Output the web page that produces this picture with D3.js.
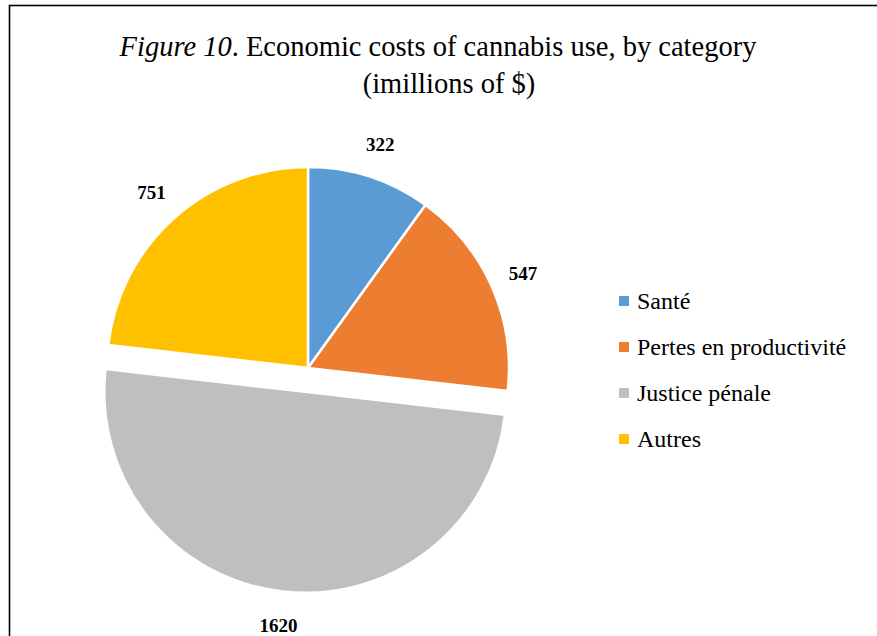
<!DOCTYPE html>
<html>
<head>
<meta charset="utf-8">
<script src="https://cdn.jsdelivr.net/npm/d3@7"></script>
<style>
	body { margin: 0; background: #fff; }
	svg { display: block; }
	text { font-family: "Liberation Serif", "Times New Roman", serif; fill: #000; }
</style>
</head>
<body>
<div id="chart"></div>
<script>
const categories = ["Santé", "Pertes en productivité", "Justice pénale", "Autres"];
const values = [322, 547, 1620, 751];
const colors = ["#5B9BD5", "#ED7D31", "#BFBFBF", "#FFC000"];
const exploded = "Justice pénale";

const width = 877, height = 636;
const cx = 308, cy = 368, radius = 201;

const svg = d3.select("#chart")
	.append("svg")
	.attr("width", width)
	.attr("height", height);

// Chart border (right and bottom edges fall outside the frame)
svg.append("rect")
	.attr("x", 9.5)
	.attr("y", 5.5)
	.attr("width", width + 20)
	.attr("height", height + 20)
	.attr("fill", "none")
	.attr("stroke", "#000")
	.attr("stroke-width", 1.6);

// Title
const title = svg.append("text")
	.attr("x", 438)
	.attr("y", 56)
	.attr("text-anchor", "middle")
	.style("font-size", "28.5px");
title.append("tspan").style("font-style", "italic").text("Figure 10");
title.append("tspan").text(". Economic costs of cannabis use, by category");

svg.append("text")
	.attr("x", 449)
	.attr("y", 93)
	.attr("text-anchor", "middle")
	.style("font-size", "28.5px")
	.text("(imillions of $)");

const data = categories.map((c, i) => ({ name: c, value: values[i], color: colors[i] }));

const pie = d3.pie()
	.sort(null)
	.value(d => d.value);

const arc = d3.arc()
	.innerRadius(0)
	.outerRadius(radius);

const labelArc = d3.arc()
	.innerRadius(radius + 34)
	.outerRadius(radius + 34);

const offset = d => {
	if (d.data.name !== exploded) return [0, 0];
	const mid = (d.startAngle + d.endAngle) / 2;
	return [Math.sin(mid) * 24, -Math.cos(mid) * 24];
};

const g = svg.append("g")
	.attr("transform", `translate(${cx},${cy})`);

const slices = g.selectAll("g.slice")
	.data(pie(data))
	.join("g")
	.attr("class", "slice")
	.attr("transform", d => `translate(${offset(d)})`);

slices.append("path")
	.attr("d", arc)
	.attr("fill", d => d.data.color)
	.attr("stroke", "#fff")
	.attr("stroke-width", 2.5)
	.attr("stroke-linejoin", "round");

slices.append("text")
	.attr("transform", d => `translate(${labelArc.centroid(d)})`)
	.attr("dy", "0.35em")
	.attr("text-anchor", "middle")
	.style("font-size", "19px")
	.style("font-weight", "bold")
	.text(d => d.data.value);

// Legend
const legend = svg.selectAll("g.legend")
	.data(data)
	.join("g")
	.attr("class", "legend")
	.attr("transform", (d, i) => `translate(619,${301 + i * 46})`);

legend.append("rect")
	.attr("x", 0)
	.attr("y", -5)
	.attr("width", 10)
	.attr("height", 10)
	.attr("fill", d => d.color);

legend.append("text")
	.attr("x", 18)
	.attr("dy", "0.35em")
	.style("font-size", "24px")
	.text(d => d.name);
</script>
</body>
</html>
